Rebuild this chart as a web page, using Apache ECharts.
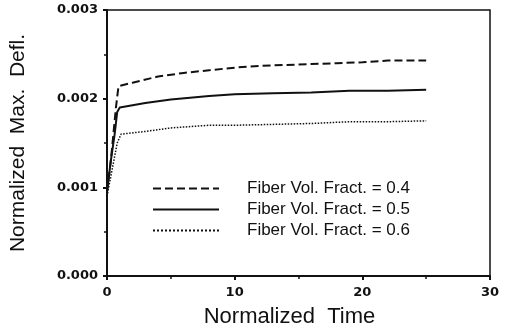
<!DOCTYPE html>
<html>
<head>
<meta charset="utf-8">
<script src="https://cdn.jsdelivr.net/npm/echarts@6/dist/echarts.min.js"></script>
<style>
  html, body { margin: 0; padding: 0; background: #fff; }
  #chart { width: 516px; height: 333px; }
</style>
</head>
<body>
<div id="chart"></div>
<script>
var seriesNames = ['Fiber Vol. Fract. = 0.4', 'Fiber Vol. Fract. = 0.5', 'Fiber Vol. Fract. = 0.6'];

// [normalized time, normalized max. deflection]
var vf04 = [[0, 0.00095], [0.3, 0.0013], [0.7, 0.0019], [0.9, 0.00214], [2, 0.00218], [4, 0.00225],
  [6, 0.00229], [8, 0.00232], [10, 0.00235], [12, 0.00237], [14, 0.00238], [16, 0.00239],
  [18, 0.0024], [20, 0.00241], [22, 0.00243], [25, 0.00243]];
var vf05 = [[0, 0.00095], [0.3, 0.0013], [0.6, 0.0016], [0.8, 0.00185], [1, 0.0019], [3, 0.00195],
  [5, 0.00199], [8, 0.00203], [10, 0.00205], [13, 0.00206], [16, 0.00207], [19, 0.00209],
  [22, 0.00209], [25, 0.0021]];
var vf06 = [[0, 0.0009], [0.4, 0.0012], [0.8, 0.0015], [1.1, 0.0016], [3, 0.00163], [5, 0.00167],
  [8, 0.0017], [10, 0.0017], [13, 0.00171], [16, 0.00172], [19, 0.00174], [22, 0.00174],
  [25, 0.00175]];

var chart = echarts.init(document.getElementById('chart'), null, { renderer: 'canvas' });

var ink = '#111';
var lineTypes = ['dashed', 'solid', 'dotted'];
var lineWidths = [2, 2, 1.5];
var datasets = [vf04, vf05, vf06];

var option = {
  backgroundColor: '#fff',
  animation: false,
  grid: {
    left: 107, right: 26, top: 10, bottom: 57,
    show: true, borderColor: ink, borderWidth: 1.5
  },
  legend: {
    left: 152, top: 180, padding: 0,
    orient: 'vertical',
    itemWidth: 66, itemHeight: 14, itemGap: 4,
    itemStyle: { opacity: 0, borderWidth: 0 },
    textStyle: { fontFamily: 'Liberation Sans', fontSize: 17, color: ink, padding: [0, 0, 0, 23] },
    data: seriesNames
  },
  xAxis: {
    type: 'value', min: 0, max: 30, interval: 10,
    name: 'Normalized  Time', nameLocation: 'middle', nameGap: 30,
    nameTextStyle: { fontFamily: 'Liberation Sans', fontSize: 22, color: ink, padding: [0, 18, 0, 0] },
    axisLine: { lineStyle: { color: ink, width: 2 } },
    axisTick: { length: 4, lineStyle: { color: ink, width: 2 } },
    minorTick: { show: true, splitNumber: 2, length: 3, lineStyle: { color: ink, width: 1.5 } },
    axisLabel: { fontFamily: 'DejaVu Sans', fontSize: 13, fontWeight: 'bold', color: ink, margin: 10 },
    splitLine: { show: false }
  },
  yAxis: {
    type: 'value', min: 0, max: 0.003, interval: 0.001,
    name: 'Normalized  Max.  Defl.', nameLocation: 'middle', nameGap: 78,
    nameTextStyle: { fontFamily: 'Liberation Sans', fontSize: 21, color: ink },
    axisLine: { show: true, lineStyle: { color: ink, width: 2 } },
    axisTick: { show: true, length: 4, lineStyle: { color: ink, width: 2 } },
    minorTick: { show: true, splitNumber: 2, length: 3, lineStyle: { color: ink, width: 1.5 } },
    axisLabel: {
      fontFamily: 'DejaVu Sans', fontSize: 13, fontWeight: 'bold', color: ink, margin: 9,
      formatter: function (v) { return v.toFixed(3); }
    },
    splitLine: { show: false }
  },
  series: datasets.map(function (d, i) {
    return {
      name: seriesNames[i],
      type: 'line',
      data: d,
      symbol: 'none',
      smooth: false,
      color: ink,
      lineStyle: { color: ink, width: lineWidths[i], type: lineTypes[i] }
    };
  })
};

chart.setOption(option);
</script>
</body>
</html>
